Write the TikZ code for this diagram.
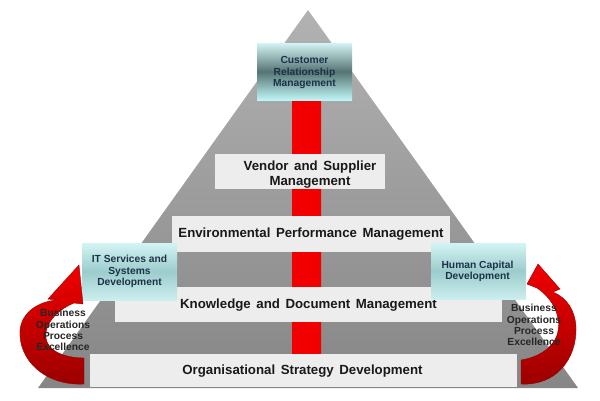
\documentclass[tikz,border=0pt]{standalone}
\usepackage{fontspec}
\setmainfont{Liberation Sans}
\newcommand\mywidespace{\spaceskip=0.42em plus 0.1em\relax}
\definecolor{pyrtop}{HTML}{B2B2B2}
\definecolor{pyrbot}{HTML}{868686}
\definecolor{barfill}{HTML}{EDEDED}
\definecolor{boxlight}{HTML}{D4F4F4}
\definecolor{boxdark}{HTML}{567474}
\definecolor{boxmid}{HTML}{9CCCCC}
\definecolor{boxtext}{HTML}{1C3248}
\definecolor{redbright}{HTML}{F20000}
\definecolor{reddark}{HTML}{B00000}
\definecolor{arrowdark}{HTML}{9A0000}
\tikzset{
  barbox/.style={fill=barfill, draw=none, inner sep=0pt},
  bartext/.style={font=\fontsize{13.3}{15}\selectfont\bfseries\mywidespace, text=black!90, inner sep=0pt, align=center},
  tealbox/.style={draw=none, inner sep=0pt, top color=boxlight, bottom color=boxlight!85!boxmid, middle color=boxmid},
  crmbox/.style={draw=none, inner sep=0pt, top color=boxlight, bottom color=boxlight!90!cyan, middle color=boxdark},
  boxlabel/.style={font=\fontsize{10.3}{11.6}\selectfont\bfseries, text=boxtext, align=center, inner sep=0pt},
  sidetext/.style={font=\fontsize{10.3}{11.2}\selectfont\bfseries, text=black!85, align=center, inner sep=0pt},
  curlarrow/.style={top color=redbright, bottom color=arrowdark, draw=arrowdark, line width=0.4bp},
}
\begin{document}
\begin{tikzpicture}[x=1bp,y=-1bp]
\useasboundingbox (0,0) rectangle (600,400);
\fill[white] (0,0) rectangle (600,400);
% pyramid
\shade[top color=pyrtop, bottom color=pyrbot] (308,10) -- (578,388) -- (38,388) -- cycle;
% red spine
\shade[top color=redbright, middle color=reddark, bottom color=redbright] (292,100) rectangle (321,354);
% levels
\node[barbox, minimum width=170bp, minimum height=35bp] (vendor) at (300,171.5) {};
\node[barbox, minimum width=278bp, minimum height=36bp] (env) at (311,234) {};
\node[barbox, minimum width=387bp, minimum height=35bp] (know) at (308.5,304.5) {};
\node[barbox, minimum width=427bp, minimum height=33bp] (org) at (303.5,370.5) {};
\node[bartext] (vendort) at (310,174.5) {Vendor and Supplier\\Management};
\node[bartext] (envt) at (311,234) {Environmental Performance Management};
\node[bartext] (knowt) at (308.5,305) {Knowledge and Document Management};
\node[bartext] (orgt) at (302.5,371) {Organisational Strategy Development};
% teal boxes
\node[crmbox, minimum width=95bp, minimum height=57bp] (crm) at (304.5,71.5) {};
\node[boxlabel] (crmt) at (304.5,72.5) {Customer\\Relationship\\Management};
\node[tealbox, minimum width=95bp, minimum height=57bp] (it) at (129.5,271.5) {};
\node[boxlabel] (itt) at (129.5,271.5) {IT Services and\\Systems\\Development};
\node[tealbox, minimum width=95bp, minimum height=56bp] (hc) at (478.5,271) {};
\node[boxlabel] (hct) at (477.5,271.5) {Human Capital\\Development};
% curved arrows
\shade[curlarrow]
  (84,384) .. controls (45,386) and (18,360) .. (20,330)
  .. controls (22,312) and (38,302) .. (56,300)
  -- (48,299) -- (79,265) -- (83,304) -- (74,303)
  .. controls (52,312) and (42,330) .. (47,342)
  .. controls (52,354) and (70,358) .. (84,358) -- cycle;
\shade[curlarrow]
  (521,384) .. controls (555,386) and (577,360) .. (576,327)
  .. controls (575,310) and (567,298) .. (553,292)
  -- (560,289) -- (538,264) -- (527,284) -- (537,288)
  .. controls (555,300) and (562,320) .. (557,335)
  .. controls (552,350) and (535,358) .. (521,360) -- cycle;
% side labels
\node[sidetext] (bopl) at (63,330) {Business\\Operations\\Process\\Excellence};
\node[sidetext] (bopr) at (534,325) {Business\\Operations\\Process\\Excellence};
\end{tikzpicture}
\end{document}
